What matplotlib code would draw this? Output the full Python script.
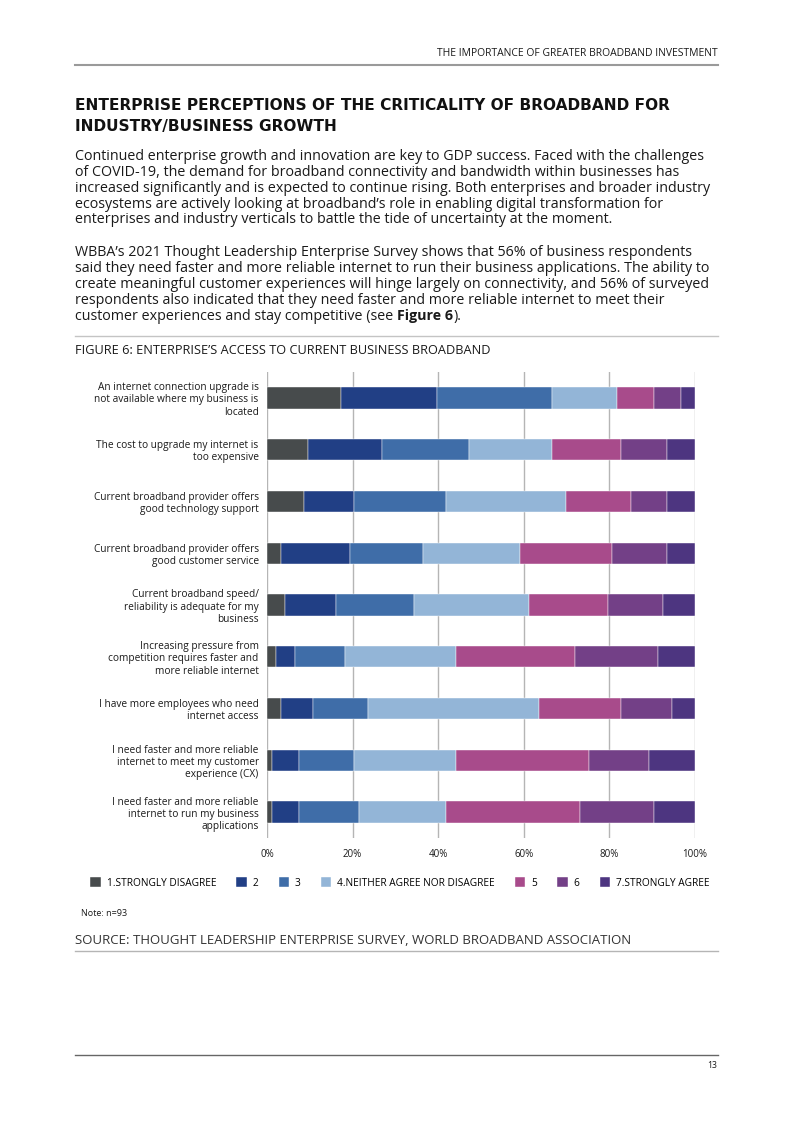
import matplotlib.pyplot as plt
import matplotlib.transforms as mtransforms
import numpy as np

# --- data (counts out of n=93) ---
statements = [
    'An internet connection upgrade is\nnot available where my business is\nlocated',
    'The cost to upgrade my internet is\ntoo expensive',
    'Current broadband provider offers\ngood technology support',
    'Current broadband provider offers\ngood customer service',
    'Current broadband speed/\nreliability is adequate for my\nbusiness',
    'Increasing pressure from\ncompetition requires faster and\nmore reliable internet',
    'I have more employees who need\ninternet access',
    'I need faster and more reliable\ninternet to meet my customer\nexperience (CX)',
    'I need faster and more reliable\ninternet to run my business\napplications',
]
levels = ['1.STRONGLY DISAGREE', '2', '3', '4.NEITHER AGREE NOR DISAGREE',
          '5', '6', '7.STRONGLY AGREE']
counts = np.array([
    [16, 21, 25, 14, 8, 6, 3],
    [9, 16, 19, 18, 15, 10, 6],
    [8, 11, 20, 26, 14, 8, 6],
    [3, 15, 16, 21, 20, 12, 6],
    [4, 11, 17, 25, 17, 12, 7],
    [2, 4, 11, 24, 26, 18, 8],
    [3, 7, 12, 37, 18, 11, 5],
    [1, 6, 12, 22, 29, 13, 10],
    [1, 6, 13, 19, 29, 16, 9],
])
xticks = [0, 20, 40, 60, 80, 100]
colors = ['#474b4c', '#213f85', '#3f6da8', '#93b5d7', '#a84b8b', '#734087', '#4d3580']

W, H = 793, 1122
FONT = 'Open Sans'
TXT = '#1a1a1a'

fig = plt.figure(figsize=(W / 100, H / 100), dpi=100)


def fx(x):
    return x / W


def fy(y):
    return 1 - y / H


def hline(y, x0=75, x1=718, color='#9a9a9a', lw=1.2):
    fig.add_artist(plt.Line2D([fx(x0), fx(x1)], [fy(y), fy(y)], color=color, lw=lw))


# page header
fig.text(fx(718), fy(54), 'THE IMPORTANCE OF GREATER BROADBAND INVESTMENT',
         ha='right', va='center', fontsize=7.5, family=FONT, color=TXT)
hline(65, lw=1.5)

# section heading
fig.text(fx(75), fy(106), 'ENTERPRISE PERCEPTIONS OF THE CRITICALITY OF BROADBAND FOR',
         ha='left', va='center', fontsize=11.1, family='DejaVu Sans', weight='heavy', color='#111111')
fig.text(fx(75), fy(126), 'INDUSTRY/BUSINESS GROWTH',
         ha='left', va='center', fontsize=11.1, family='DejaVu Sans', weight='heavy', color='#111111')

para1 = [
    'Continued enterprise growth and innovation are key to GDP success. Faced with the challenges',
    'of COVID-19, the demand for broadband connectivity and bandwidth within businesses has',
    'increased significantly and is expected to continue rising. Both enterprises and broader industry',
    'ecosystems are actively looking at broadband\u2019s role in enabling digital transformation for',
    'enterprises and industry verticals to battle the tide of uncertainty at the moment.',
]
para2 = [
    'WBBA\u2019s 2021 Thought Leadership Enterprise Survey shows that 56% of business respondents',
    'said they need faster and more reliable internet to run their business applications. The ability to',
    'create meaningful customer experiences will hinge largely on connectivity, and 56% of surveyed',
    'respondents also indicated that they need faster and more reliable internet to meet their',
]
BODY = 10.3
for i, line in enumerate(para1):
    fig.text(fx(75), fy(157 + i * 15.7), line, ha='left', va='center',
             fontsize=BODY, family=FONT, color=TXT)
for i, line in enumerate(para2):
    fig.text(fx(75), fy(253 + i * 15.8), line, ha='left', va='center',
             fontsize=BODY, family=FONT, color=TXT)

# last line with bold "Figure 6"
y_last = fy(253 + 4 * 15.8)
t1 = fig.text(fx(75), y_last, 'customer experiences and stay competitive (see ', ha='left',
              va='center', fontsize=BODY, family=FONT, color=TXT)
fig.canvas.draw()
r = fig.canvas.get_renderer()
x_after = fig.transFigure.inverted().transform(t1.get_window_extent(r))[1][0]
t2 = fig.text(x_after, y_last, 'Figure 6', ha='left', va='center', fontsize=BODY,
              family=FONT, weight='bold', color=TXT)
x_after2 = fig.transFigure.inverted().transform(t2.get_window_extent(r))[1][0]
fig.text(x_after2, y_last, ').', ha='left', va='center', fontsize=BODY, family=FONT, color=TXT)

hline(336, color='#c4c4c4', lw=1.0)
fig.text(fx(75), fy(350), 'FIGURE 6: ENTERPRISE\u2019S ACCESS TO CURRENT BUSINESS BROADBAND',
         ha='left', va='center', fontsize=9.2, family=FONT, color=TXT)

# --- chart ---
ax = fig.add_axes([fx(267), fy(838), fx(695) - fx(267), (838 - 372) / H])
pct = counts / counts.sum(axis=1, keepdims=True) * 100
ypos = np.arange(len(statements))
left = np.zeros(len(statements))
for j, lab in enumerate(levels):
    ax.barh(ypos, pct[:, j], left=left, height=0.41, color=colors[j], label=lab,
            edgecolor='white', linewidth=0.3, zorder=3)
    left += pct[:, j]

ax.set_xlim(0, 100)
ax.set_ylim(len(statements) - 0.5, -0.5)
ax.set_xticks(xticks)
ax.set_xticklabels([f'{v}%' for v in xticks], fontsize=7.0, family=FONT, color=TXT)
shift = mtransforms.ScaledTranslation(4 / 100, 0, fig.dpi_scale_trans)
for lbl in ax.get_xticklabels():
    lbl.set_transform(lbl.get_transform() + shift)
ax.set_yticks(ypos)
ax.set_yticklabels(statements, fontsize=7.3, family=FONT, color=TXT, linespacing=1.15)
ax.tick_params(axis='both', length=0)
ax.tick_params(axis='y', pad=6)
ax.tick_params(axis='x', pad=8)
ax.grid(axis='x', color='#b5b5b5', lw=1.0, zorder=0)
for s in ax.spines.values():
    s.set_visible(False)

handles, labs = ax.get_legend_handles_labels()
fig.legend(handles, labs, loc='center', bbox_to_anchor=(fx(400), fy(883)), ncol=7,
           frameon=False, prop={'family': FONT, 'size': 7.3}, handlelength=1.0,
           handleheight=1.0, handletextpad=0.6, columnspacing=2.0)

fig.text(fx(81), fy(914), 'Note: n=93', ha='left', va='center', fontsize=6.5,
         family=FONT, color=TXT)
fig.text(fx(75), fy(940), 'SOURCE: THOUGHT LEADERSHIP ENTERPRISE SURVEY, WORLD BROADBAND ASSOCIATION',
         ha='left', va='center', fontsize=9.5, family=FONT, color='#333333')
hline(951, color='#b5b5b5', lw=1.0)

hline(1055, color='#666666', lw=1.0)
fig.text(fx(717), fy(1066), '13', ha='right', va='center', fontsize=6.3, family=FONT, color=TXT)

fig.savefig('out.png', dpi=100)
